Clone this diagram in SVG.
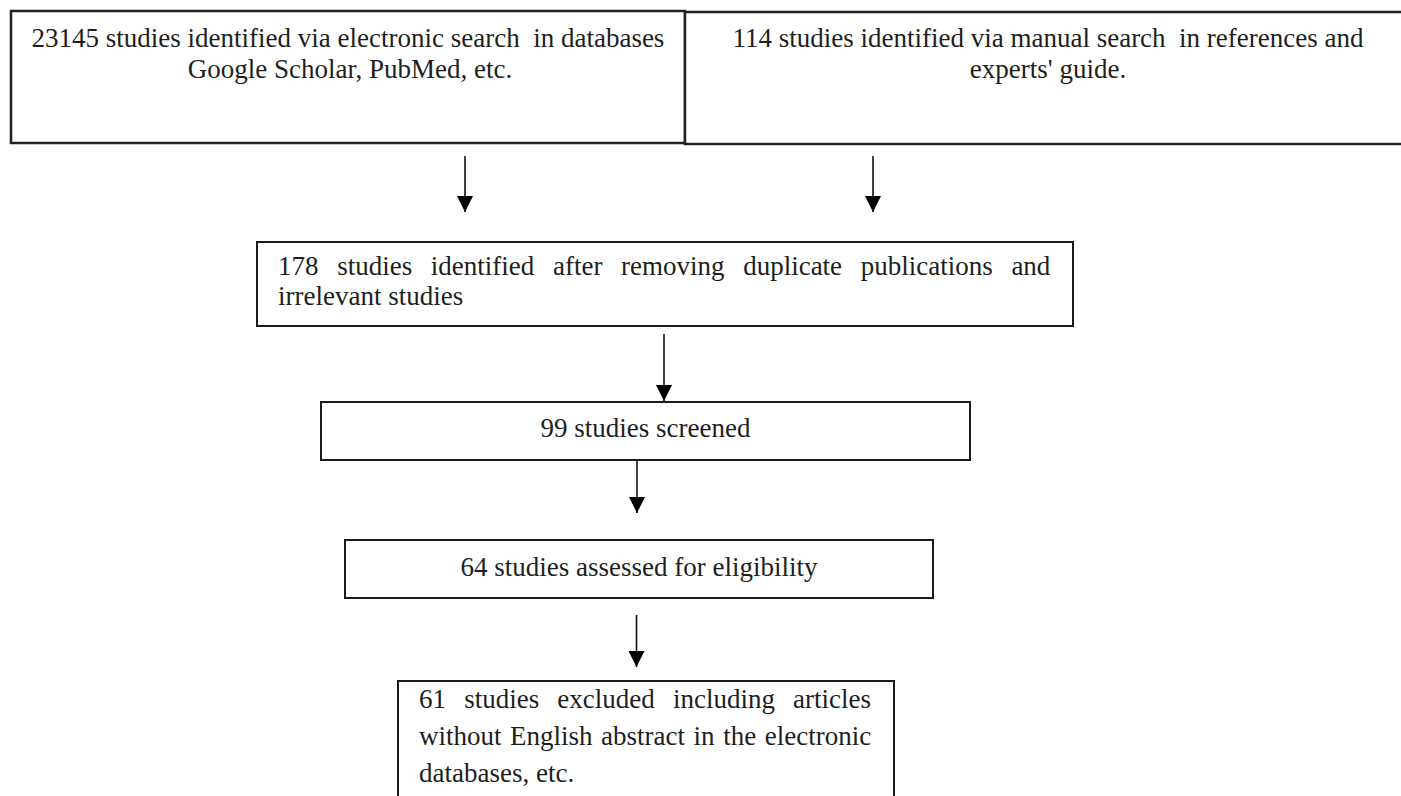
<svg xmlns="http://www.w3.org/2000/svg" width="1401" height="796" viewBox="0 0 1401 796">
<defs>
<style>
.box{fill:#fff;stroke:#1a1a1a;stroke-width:2}
.top{fill:#fff;stroke:#222;stroke-width:2.5}
.t{font-family:"Liberation Serif","Times New Roman",serif;font-size:27px;fill:#1e1e1e;white-space:pre}
.c{text-anchor:middle}
.arr{stroke:#111;stroke-width:1.6;fill:none;marker-end:url(#ah)}
</style>
<marker id="ah" viewBox="0 0 16 16" refX="16" refY="8" markerWidth="16" markerHeight="16" markerUnits="userSpaceOnUse" orient="auto">
<path d="M0,0 L16,8 L0,16 Z" fill="#000"/>
</marker>
</defs>
<rect width="1401" height="796" fill="#fff"/>
<g id="node-electronic">
<rect class="top" x="11" y="11" width="674" height="132"/>
<text class="t c" x="348" y="47" xml:space="preserve">23145 studies identified via electronic search  in databases</text>
<text class="t c" x="350" y="78">Google Scholar, PubMed, etc.</text>
</g>
<g id="node-manual">
<rect class="top" x="685" y="12" width="730" height="132"/>
<text class="t c" x="1048" y="47" xml:space="preserve">114 studies identified via manual search  in references and</text>
<text class="t c" x="1048" y="78">experts' guide.</text>
</g>
<g id="node-178">
<rect class="box" x="257" y="242" width="816" height="84"/>
<text class="t" x="278" y="275" style="word-spacing:11.9px">178 studies identified after removing duplicate publications and</text>
<text class="t" x="278" y="305">irrelevant studies</text>
</g>
<g id="node-99">
<rect class="box" x="321" y="402" width="649" height="58"/>
<text class="t c" x="645.5" y="437">99 studies screened</text>
</g>
<g id="node-64">
<rect class="box" x="345" y="540" width="588" height="58"/>
<text class="t c" x="639" y="576">64 studies assessed for eligibility</text>
</g>
<g id="node-61">
<rect class="box" x="398" y="681" width="496" height="130"/>
<text class="t" x="419" y="708" style="word-spacing:11.4px">61 studies excluded including articles</text>
<text class="t" x="419" y="745" style="word-spacing:1.8px">without English abstract in the electronic</text>
<text class="t" x="419" y="782">databases, etc.</text>
</g>
<g id="connectors">
<line class="arr" x1="465" y1="156" x2="465" y2="212"/>
<line class="arr" x1="873" y1="156" x2="873" y2="212"/>
<line class="arr" x1="664" y1="334" x2="664" y2="401"/>
<line class="arr" x1="637" y1="460" x2="637" y2="513"/>
<line class="arr" x1="636.5" y1="615" x2="636.5" y2="667"/>
</g>
</svg>
